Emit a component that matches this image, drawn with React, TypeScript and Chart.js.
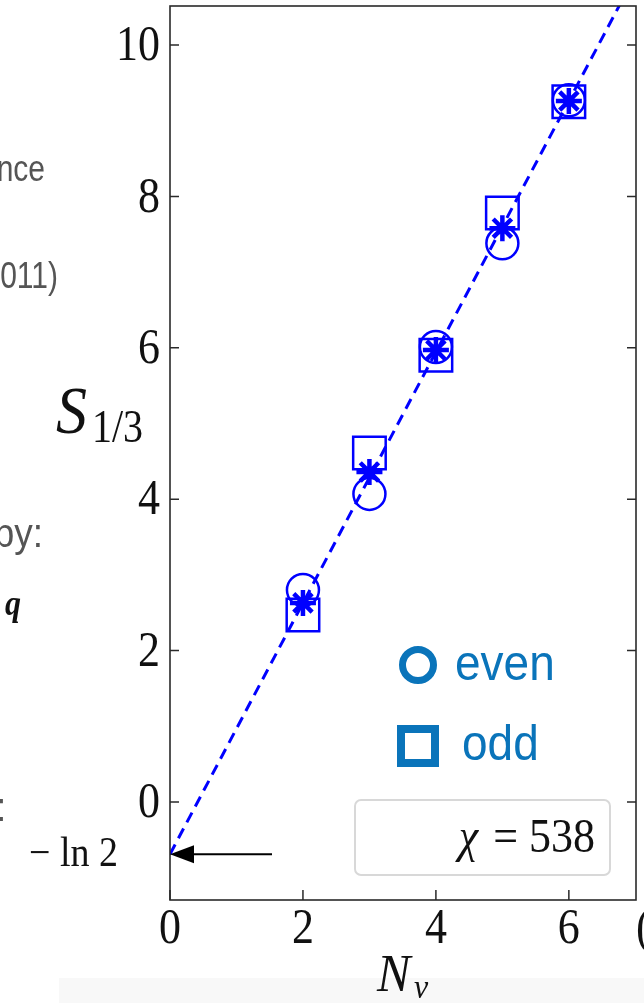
import React, { useEffect, useRef } from "react";
import { Chart, registerables } from "chart.js";

Chart.register(...registerables);

const nv = [2, 3, 4, 5, 6];
const evenS = [2.8, 4.07, 6.01, 7.38, 9.27];
const oddS = [2.47, 4.61, 5.9, 7.78, 9.25];
const avgS = [2.63, 4.36, 5.97, 7.58, 9.26];
const fitX = [0, 7];
const fitY = [-0.69, 10.92];
const xTicks = [0, 2, 4, 6];
const yTicks = [0, 2, 4, 6, 8, 10];
const legendLabels = ["even", "odd"];
const chiLabel = "538";
const arrowY = -0.69;

const BLUE = "#0000ff";
const LEG = "#0a74ba";
const SERIF = '"Liberation Serif", "DejaVu Serif", serif';
const SANS = '"Liberation Sans", Arial, sans-serif';

function txt(
  ctx: CanvasRenderingContext2D,
  s: string,
  x: number,
  y: number,
  font: string,
  color: string,
  align: CanvasTextAlign,
  baseline: CanvasTextBaseline,
  sy = 1
) {
  ctx.save();
  ctx.font = font;
  ctx.fillStyle = color;
  ctx.textAlign = align;
  ctx.textBaseline = baseline;
  ctx.translate(x, y);
  ctx.scale(1, sy);
  ctx.fillText(s, 0, 0);
  ctx.restore();
}

const decor = {
  id: "decor",
  beforeDraw(chart: any) {
    const ctx: CanvasRenderingContext2D = chart.ctx;
    ctx.save();
    ctx.fillStyle = "#f8f8f8";
    ctx.fillRect(59, 978, 644 - 59, 1003 - 978);
    ctx.restore();
  },
  afterDraw(chart: any) {
    const ctx: CanvasRenderingContext2D = chart.ctx;
    const { left, right, top, bottom } = chart.chartArea;
    const xs = chart.scales.x;
    const ys = chart.scales.y;

    // frame
    ctx.save();
    ctx.strokeStyle = "#2a2a2a";
    ctx.lineWidth = 1.6;
    ctx.strokeRect(left, top, right - left, bottom - top);
    // ticks (inward)
    ctx.lineWidth = 1.5;
    ctx.beginPath();
    yTicks.forEach((v) => {
      const p = ys.getPixelForValue(v);
      ctx.moveTo(left, p);
      ctx.lineTo(left + 9, p);
      ctx.moveTo(right, p);
      ctx.lineTo(right - 9, p);
    });
    xTicks.forEach((v) => {
      const p = xs.getPixelForValue(v);
      ctx.moveTo(p, bottom);
      ctx.lineTo(p, bottom - 10);
    });
    ctx.stroke();
    ctx.restore();

    // tick labels
    yTicks.forEach((v) => {
      txt(ctx, String(v), 160, ys.getPixelForValue(v) + 2, `44px ${SERIF}`, "#111", "right", "middle", 1.15);
    });
    xTicks.forEach((v) => {
      txt(ctx, String(v), xs.getPixelForValue(v), 930, `44px ${SERIF}`, "#111", "center", "middle", 1.15);
    });
    txt(ctx, "(", 636, 930, `44px ${SERIF}`, "#111", "left", "middle", 1.15);

    // axis titles
    txt(ctx, "N", 377, 991, `italic 50px ${SERIF}`, "#111", "left", "alphabetic", 1.05);
    txt(ctx, "v", 414, 998, `italic 32px ${SERIF}`, "#111", "left", "alphabetic", 1.05);
    txt(ctx, "S", 56, 433, `italic 62px ${SERIF}`, "#111", "left", "alphabetic", 1.1);
    txt(ctx, "1/3", 92, 442, `40px ${SERIF}`, "#111", "left", "alphabetic", 1.15);

    // arrow to -ln2
    const ay = ys.getPixelForValue(arrowY);
    ctx.save();
    ctx.strokeStyle = "#000";
    ctx.fillStyle = "#000";
    ctx.lineWidth = 2;
    ctx.beginPath();
    ctx.moveTo(272, ay);
    ctx.lineTo(190, ay);
    ctx.stroke();
    ctx.beginPath();
    ctx.moveTo(left, ay);
    ctx.lineTo(left + 24, ay - 9);
    ctx.lineTo(left + 24, ay + 9);
    ctx.closePath();
    ctx.fill();
    ctx.restore();
    txt(ctx, "\u2212 ln 2", 118, 866, `38px ${SERIF}`, "#111", "right", "alphabetic", 1.1);

    // legend
    ctx.save();
    ctx.strokeStyle = LEG;
    ctx.lineWidth = 7;
    ctx.beginPath();
    ctx.arc(418, 665, 15.5, 0, Math.PI * 2);
    ctx.stroke();
    ctx.lineWidth = 8;
    ctx.strokeRect(401, 729, 34, 34);
    ctx.restore();
    txt(ctx, legendLabels[0], 455, 666, `46px ${SANS}`, LEG, "left", "middle", 1.1);
    txt(ctx, legendLabels[1], 462, 746, `46px ${SANS}`, LEG, "left", "middle", 1.1);

    // chi box
    ctx.save();
    ctx.strokeStyle = "#d8d8d8";
    ctx.lineWidth = 2;
    ctx.beginPath();
    (ctx as any).roundRect(355, 800, 255, 75, 6);
    ctx.stroke();
    ctx.restore();
    ctx.save();
    ctx.font = `44px ${SERIF}`;
    const w2 = ctx.measureText(" = " + chiLabel).width;
    ctx.restore();
    txt(ctx, " = " + chiLabel, 595, 852, `44px ${SERIF}`, "#111", "right", "alphabetic", 1.1);
    txt(ctx, "\u03c7", 595 - w2 - 4, 852, `italic 44px ${SERIF}`, "#111", "right", "alphabetic", 1.1);

    // clipped slide text on the left
    const GRAY = "#555";
    txt(ctx, "ance", 45, 181, `30px ${SANS}`, GRAY, "right", "alphabetic", 1.2);
    txt(ctx, "2011)", 58, 288, `30px ${SANS}`, GRAY, "right", "alphabetic", 1.2);
    txt(ctx, "by:", 43, 547, `37px ${SANS}`, GRAY, "right", "alphabetic", 1.1);
    txt(ctx, "q", 5, 615, `bold italic 32px ${SERIF}`, "#111", "left", "alphabetic", 1.1);
    txt(ctx, ":", -4, 821, `37px ${SANS}`, GRAY, "left", "alphabetic", 1.1);
  },
};

export default function App() {
  const ref = useRef<HTMLCanvasElement>(null);
  useEffect(() => {
    if (!ref.current) return;
    const chart = new Chart(ref.current, {
      type: "scatter",
      data: {
        datasets: [
          {
            type: "line",
            label: "fit",
            data: fitX.map((x, i) => ({ x, y: fitY[i] })),
            borderColor: BLUE,
            borderWidth: 3,
            borderDash: [11, 7],
            pointRadius: 0,
            fill: false,
            order: 0,
          } as any,
          {
            label: "even",
            data: nv.map((x, i) => ({ x, y: evenS[i] })),
            pointStyle: "circle",
            pointRadius: 16,
            borderColor: BLUE,
            backgroundColor: "rgba(0,0,0,0)",
            borderWidth: 2.5,
            order: 3,
          },
          {
            label: "odd",
            data: nv.map((x, i) => ({ x, y: oddS[i] })),
            pointStyle: "rect",
            pointRadius: 23,
            borderColor: BLUE,
            backgroundColor: "rgba(0,0,0,0)",
            borderWidth: 2.5,
            order: 2,
          },
          {
            label: "avg",
            data: nv.map((x, i) => ({ x, y: avgS[i] })),
            pointStyle: "star",
            pointRadius: 13,
            borderColor: BLUE,
            backgroundColor: BLUE,
            borderWidth: 4.5,
            order: 1,
          },
        ],
      },
      options: {
        animation: false,
        responsive: false,
        maintainAspectRatio: false,
        layout: { autoPadding: false, padding: { left: 170, right: 8, top: 6, bottom: 103 } },
        plugins: { legend: { display: false }, tooltip: { enabled: false } },
        scales: {
          x: { type: "linear", display: false, min: 0, max: 7.01 },
          y: { type: "linear", display: false, min: -1.295, max: 10.515 },
        },
      },
      plugins: [decor],
    });
    return () => chart.destroy();
  }, []);
  return (
    <div style={{ position: "absolute", left: 0, top: 0, width: 644, height: 1003, background: "#fff" }}>
      <canvas ref={ref} width={644} height={1003} style={{ display: "block" }} />
    </div>
  );
}
